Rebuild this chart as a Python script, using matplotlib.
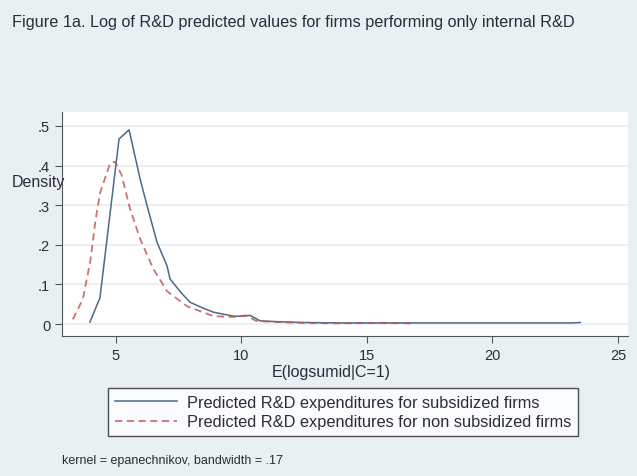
import matplotlib
matplotlib.use("Agg")
import matplotlib.pyplot as plt

matplotlib.rcParams['font.family'] = 'sans-serif'
matplotlib.rcParams['font.sans-serif'] = ['Liberation Sans', 'DejaVu Sans']

BG = "#e9f0f2"
TXT = "#2b2b3a"
BLUE = "#4a6a8a"
RED = "#c0504d"

title = "Figure 1a. Log of R&D predicted values for firms performing only internal R&D"
x_label = "E(logsumid|C=1)"
y_label = "Density"
note = "kernel = epanechnikov, bandwidth = .17"
legend_labels = ["Predicted R&D expenditures for subsidized firms",
                 "Predicted R&D expenditures for non subsidized firms"]

# subsidized firms (solid)
sub_x = [3.98, 4.38, 5.14, 5.54, 5.98, 6.25, 6.65, 7.05, 7.17, 7.6, 7.97, 8.5,
         8.9, 9.3, 9.7, 10.0, 10.36, 10.76, 11.5, 12.5, 14.0, 16.0, 18.0, 20.0, 22.0, 23.2, 23.5]
sub_y = [0.005, 0.066, 0.467, 0.49, 0.366, 0.30, 0.207, 0.147, 0.114, 0.08, 0.055, 0.04,
         0.03, 0.025, 0.02, 0.02, 0.022, 0.008, 0.006, 0.004, 0.003, 0.003, 0.003, 0.003, 0.003, 0.003, 0.004]

# non subsidized firms (dashed)
non_x = [3.3, 3.7, 4.0, 4.2, 4.38, 4.78, 4.98, 5.25, 5.58, 5.98, 6.5, 7.05, 7.85,
         8.9, 9.7, 10.2, 10.6, 11.5, 12.5, 14.0, 15.5, 16.85]
non_y = [0.012, 0.063, 0.16, 0.26, 0.33, 0.405, 0.41, 0.375, 0.29, 0.215, 0.14, 0.083, 0.045,
         0.02, 0.018, 0.022, 0.008, 0.005, 0.003, 0.002, 0.003, 0.002]

x_ticks = [5, 10, 15, 20, 25]
y_ticks = [0, 0.1, 0.2, 0.3, 0.4, 0.5]
y_tick_labels = ["0", ".1", ".2", ".3", ".4", ".5"]

fig = plt.figure(figsize=(6.37, 4.77), dpi=100, facecolor=BG)
ax = fig.add_axes([62 / 637, 1 - 337 / 477, (628 - 62) / 637, (337 - 113) / 477])
ax.set_facecolor("white")

l1, = ax.plot(sub_x, sub_y, color=BLUE, lw=1.1)
l2, = ax.plot(non_x, non_y, color=RED, lw=1.3, ls=(0, (4, 2.5)), alpha=0.8)

ax.set_xlim(2.87, 25.4)
ax.set_ylim(-0.03, 0.535)
ax.set_xticks(x_ticks)
ax.set_yticks(y_ticks)
ax.set_yticklabels(y_tick_labels)
ax.grid(axis="y", color="#e6eef0", lw=1.2)
ax.set_axisbelow(True)
for s in ["top", "right"]:
    ax.spines[s].set_visible(False)
for s in ["left", "bottom"]:
    ax.spines[s].set_color("#555555")
ax.tick_params(colors="#555555", labelcolor=TXT, labelsize=10.5, length=5)

fig.text(12 / 637, 1 - 22 / 477, title, fontsize=11.7, color=TXT, va="center")
fig.text(12 / 637, 1 - 183 / 477, y_label, fontsize=11.5, color=TXT, va="center")
fig.text(331 / 637, 1 - 372 / 477, x_label, fontsize=11.5, color=TXT, ha="center", va="center")
fig.text(62 / 637, 1 - 461 / 477, note, fontsize=9, color=TXT, va="center")

leg = fig.legend([l1, l2], legend_labels, loc="upper left",
                 bbox_to_anchor=(108 / 637, 1 - 389 / 477), borderaxespad=0,
                 fontsize=11.8, frameon=True, fancybox=False, edgecolor="#222222",
                 facecolor="white", borderpad=0.42, handlelength=3.8,
                 handletextpad=0.6, labelspacing=0.28)
leg.get_frame().set_linewidth(1.0)
for t in leg.get_texts():
    t.set_color(TXT)

fig.savefig("out.png", dpi=100, facecolor=BG)
